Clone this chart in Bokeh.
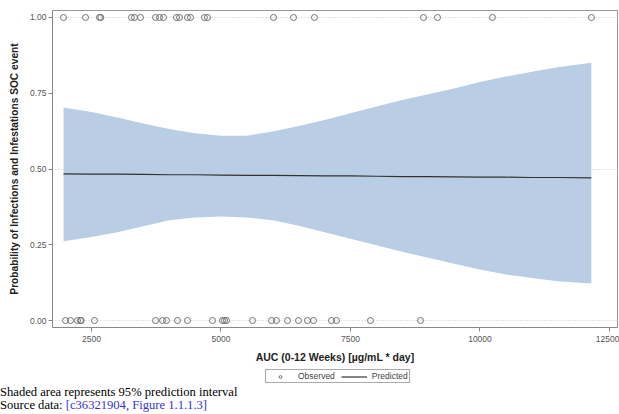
from bokeh.plotting import figure
from bokeh.models import Legend, LegendItem, FixedTicker, Div, CustomJSTickFormatter, Range1d
from bokeh.layouts import column
from bokeh.embed import file_html
from bokeh.resources import INLINE

# ---- data ----
obs_event_auc = [1959, 2384, 2654, 2680, 3272, 3330, 3446, 3736, 3813, 3890,
                 4141, 4199, 4353, 4411, 4681, 4739, 6014, 6400, 6805, 8909,
                 9180, 10241, 12152]
obs_none_auc = [1998, 2095, 2230, 2288, 2300, 2558, 3736, 3871, 3948, 4160,
                4353, 4836, 5029, 5068, 5106, 5608, 5975, 6071, 6284, 6496,
                6670, 6786, 7133, 7230, 7886, 8851]

grid_auc = [1960, 2500, 3000, 3500, 4000, 4500, 5000, 5500, 6000, 6500, 7000,
            7500, 8000, 8500, 9000, 9500, 10000, 10500, 11000, 11500, 12150]
pred_prob = [0.484, 0.483, 0.483, 0.482, 0.481, 0.481, 0.480, 0.479, 0.479,
             0.478, 0.477, 0.477, 0.476, 0.475, 0.475, 0.474, 0.473, 0.473,
             0.472, 0.472, 0.471]
upper_pi = [0.703, 0.688, 0.670, 0.650, 0.632, 0.618, 0.610, 0.610, 0.624,
            0.642, 0.662, 0.684, 0.706, 0.728, 0.747, 0.766, 0.787, 0.805,
            0.821, 0.836, 0.851]
lower_pi = [0.262, 0.276, 0.291, 0.311, 0.331, 0.340, 0.343, 0.340, 0.331,
            0.313, 0.291, 0.270, 0.248, 0.227, 0.207, 0.187, 0.168, 0.152,
            0.140, 0.130, 0.122]

x_ticks = [2500, 5000, 7500, 10000, 12500]
y_ticks = [0.0, 0.25, 0.5, 0.75, 1.0]
ref_lines = [0.0, 0.5, 1.0]

x_label = "AUC (0-12 Weeks) [\u00b5g/mL * day]"
y_label = "Probability of Infections and Infestations SOC event"
legend_labels = ["Observed", "Predicted"]
footer_1 = "Shaded area represents 95% prediction interval"
footer_2a = "Source data: "
footer_2b = "[c36321904, Figure 1.1.1.3]"

FONT = "Liberation Sans"
MARK_COLOR = "#707070"
LINE_COLOR = "#333333"

p = figure(width=619, height=367, x_range=(1747, 12655), y_range=(-0.023, 1.023),
           output_backend="svg", toolbar_location=None,
           min_border_left=52, min_border_right=2, min_border_top=10,
           min_border_bottom=40)

p.varea(x=grid_auc, y1=lower_pi, y2=upper_pi, fill_color="#b9cde5", fill_alpha=1.0)
p.line(x=grid_auc, y=pred_prob, line_color=LINE_COLOR, line_width=1.2)
p.scatter(x=obs_event_auc, y=[1.0] * len(obs_event_auc), marker="circle",
          size=6, fill_color=None, line_color=MARK_COLOR, line_width=1)
p.scatter(x=obs_none_auc, y=[0.0] * len(obs_none_auc), marker="circle",
          size=6, fill_color=None, line_color=MARK_COLOR, line_width=1)

p.xgrid.visible = False
p.ygrid.ticker = FixedTicker(ticks=ref_lines)
p.ygrid.grid_line_color = "#c8c8c8"
p.ygrid.grid_line_dash = "1 2"
p.ygrid.grid_line_width = 1

p.outline_line_color = "#999999"
p.outline_line_width = 1

for ax in (p.xaxis[0], p.yaxis[0]):
    ax.axis_line_color = "#888888"
    ax.major_tick_line_color = "#888888"
    ax.minor_tick_line_color = None
    ax.major_tick_out = 4
    ax.major_tick_in = 0
    ax.major_label_text_font = FONT
    ax.major_label_text_font_size = "8.5px"
    ax.major_label_text_color = "#555555"
    ax.axis_label_text_font = FONT
    ax.axis_label_text_font_style = "bold"
    ax.axis_label_text_color = "#222222"

p.xaxis.axis_label_text_font_size = "10.5px"
p.yaxis.axis_label_text_font_size = "10.2px"
p.xaxis.ticker = FixedTicker(ticks=x_ticks)
p.yaxis.ticker = FixedTicker(ticks=y_ticks)
p.yaxis.formatter = CustomJSTickFormatter(code="return tick.toFixed(2);")
p.xaxis.axis_label = x_label
p.yaxis.axis_label = y_label
p.xaxis.major_label_standoff = 4
p.xaxis.axis_label_standoff = 6
p.yaxis.major_label_standoff = 2
p.yaxis.axis_label_standoff = 7

# ---- legend strip below the plot (renderers out of view, used only as keys) ----
lg = figure(width=619, height=19, x_range=p.x_range, y_range=Range1d(5, 6),
            output_backend="svg", toolbar_location=None,
            min_border=0, outline_line_color=None)
lg.axis.visible = False
lg.grid.visible = False
key_obs = lg.scatter(x=obs_event_auc, y=[1.0] * len(obs_event_auc), marker="circle",
                     size=6, fill_color=None, line_color=MARK_COLOR, line_width=1)
key_pred = lg.line(x=grid_auc, y=pred_prob, line_color=LINE_COLOR, line_width=1.2)

legend = Legend(items=[LegendItem(label=legend_labels[0], renderers=[key_obs]),
                       LegendItem(label=legend_labels[1], renderers=[key_pred])],
                orientation="horizontal", location=(213, 3),
                label_text_font=FONT, label_text_font_size="8.5px",
                label_text_color="#444444", glyph_width=26, glyph_height=7,
                label_height=7, label_standoff=5, spacing=6, padding=1,
                margin=0, border_line_color="#555555", border_line_width=1.5,
                background_fill_alpha=0)
lg.add_layout(legend, "center")

div = Div(text=(
    '<div style="position:relative; left:0px; font-family:\'Liberation Serif\', serif; '
    'font-size:12.6px; line-height:13px; color:#000; white-space:nowrap;">'
    + footer_1 + '<br>' + footer_2a
    + '<span style="color:#3333dd;">' + footer_2b + '</span></div>'),
    width=600, height=28, margin=(0, 0, 0, 0))

layout = column(p, lg, div, spacing=0)
open("out.html", "w").write(file_html(layout, INLINE))
